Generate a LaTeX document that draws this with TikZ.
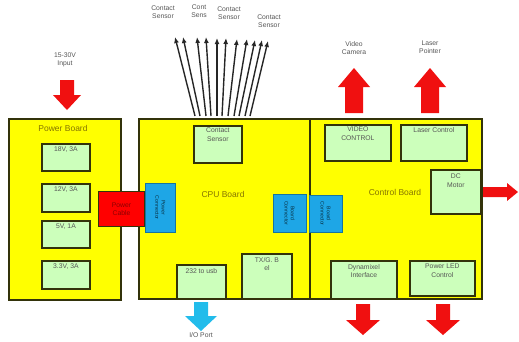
\documentclass[tikz,border=0pt]{standalone}
\usepackage{fontspec}
\setmainfont{Liberation Sans}
\usetikzlibrary{arrows.meta,positioning}
\definecolor{BoardYellow}{HTML}{FFFF00}
\definecolor{BoardEdge}{HTML}{33330A}
\definecolor{PartGreen}{HTML}{CCFFBB}
\definecolor{PortBlue}{HTML}{1EA6E6}
\definecolor{CableRed}{HTML}{FF0000}
\definecolor{ArrowRed}{HTML}{F01010}
\definecolor{ArrowBlue}{HTML}{22BCEB}
\definecolor{InkGray}{HTML}{555555}
\definecolor{InkOlive}{HTML}{857500}
%% fat block arrow: tail, rotation, length, shaft half, head half, head length, colour
\newcommand{\blockarrow}[7]{%
  \fill[#7, shift={#1}, rotate=#2] (-#4,0) -- (-#4,#3-#6) -- (-#5,#3-#6) -- (0,#3)
    -- (#5,#3-#6) -- (#4,#3-#6) -- (#4,0) -- cycle;}
\begin{document}
\begin{tikzpicture}[x=1pt, y=-1pt, font=\fontsize{6.8}{8.4}\selectfont,
  board/.style={draw=BoardEdge, fill=BoardYellow, line width=1.6pt, anchor=north west, inner sep=0pt},
  part/.style={draw=BoardEdge, fill=PartGreen, line width=1.8pt, anchor=north west, inner sep=0pt},
  port/.style={draw=PortBlue!70!black, fill=PortBlue, line width=0.4pt, anchor=north west, inner sep=0pt},
  porttag/.style={rotate=-90, text=PortBlue!30!black, align=center, inner sep=0pt, font=\fontsize{5.2}{6.2}\selectfont},
  tag/.style={text=InkGray, align=center, inner sep=0pt},
  title/.style={text=InkOlive, font=\fontsize{8.5}{10}\selectfont, inner sep=0pt},
  sensor/.style={-{Latex[length=6pt,width=5pt]}, line width=1.4pt, black!85}]
\useasboundingbox (0,0) rectangle (519,341);
%% boards
\node[board, minimum width=112, minimum height=181] (pwr) at (8,118) {};
\node[board, minimum width=171, minimum height=180] (cpu) at (138,118) {};
\node[board, minimum width=172, minimum height=180] (ctl) at (309,118) {};
\node[title] (pwrT) at (63,128) {Power Board};
\node[title] (cpuT) at (223,194) {CPU Board};
\node[title] (ctlT) at (395,192) {Control Board};
%% power board outputs
\foreach \n/\y/\h/\l in {v1/143/27/{18V, 3A}, v2/183/28/{12V, 3A}, v3/220/27/{5V, 1A}, v4/260/28/{3.3V, 3A}}
  {\node[part, minimum width=48, minimum height=\h] (\n) at (41,\y) {};
   \node[tag, below=4pt of \n.north] {\l};}
%% cable and connectors
\node[port, minimum width=30, minimum height=49] (pcon) at (145,183) {};
\node[porttag] at (pcon.center) {Power\\Connector};
\node[port, minimum width=33, minimum height=38] (bcon1) at (273,194) {};
\node[porttag] at (bcon1.center) {Board\\Connector};
\node[port, minimum width=33, minimum height=37] (bcon2) at (309,195) {};
\node[porttag] at (bcon2.center) {Board\\Connector};
\node[draw=BoardEdge, fill=CableRed, line width=1pt, anchor=north west, minimum width=46, minimum height=35,
      text=CableRed!55!black, align=center, inner sep=0pt] (cable) at (98,191) {Power\\Cable};
%% CPU board parts
\node[part, minimum width=48, minimum height=37] (contact) at (193,125) {};
\node[tag, below=3pt of contact.north] {Contact\\Sensor};
\node[part, minimum width=49, minimum height=34] (usb) at (176,264) {};
\node[tag, below=4pt of usb.north] {232 to usb};
\node[part, minimum width=50, minimum height=45] (txg) at (241,253) {};
\node[tag, below=4pt of txg.north] {TX/G. B\\el};
%% control board parts
\node[part, minimum width=66, minimum height=36] (video) at (324,124) {};
\node[tag, below=3pt of video.north] {VIDEO\\CONTROL};
\node[part, minimum width=66, minimum height=36] (laser) at (400,124) {};
\node[tag, below=3pt of laser.north] {Laser Control};
\node[part, minimum width=50, minimum height=44] (motor) at (430,169) {};
\node[tag, below=5pt of motor.north] {DC\\Motor};
\node[part, minimum width=66, minimum height=38] (dyna) at (330,260) {};
\node[tag, below=4pt of dyna.north] {Dynamixel\\Interface};
\node[part, minimum width=65, minimum height=35] (led) at (409,260) {};
\node[tag, below=4pt of led.north] {Power LED\\Control};
%% block arrows
\blockarrow{(67,80)}{0}{30}{7}{14}{15}{ArrowRed}
\blockarrow{(354,113)}{180}{45}{9}{16}{19}{ArrowRed}
\blockarrow{(430,113)}{180}{45}{9}{16}{19}{ArrowRed}
\blockarrow{(483,192)}{90}{35}{5}{9}{11}{ArrowRed}
\blockarrow{(363,304)}{0}{31}{7}{17}{15}{ArrowRed}
\blockarrow{(443,304)}{0}{31}{7}{17}{15}{ArrowRed}
\blockarrow{(201,302)}{0}{29}{7}{16}{15}{ArrowBlue}
%% arrow labels
\node[tag] (inLbl) at (65,60) {15-30V\\Input};
\node[tag] (camLbl) at (354,48) {Video\\Camera};
\node[tag] (lpLbl) at (430,47) {Laser\\Pointer};
\node[tag, anchor=north] (ioLbl) at (201,332.5) {I/O Port};
%% contact sensor leads
\foreach \i/\bx/\tx/\ty in {1/195/175/37, 2/200/183/37, 3/206/197/37, 4/211/206/37, 5/217/217/38,
    6/222/226/38, 7/228/237/39, 8/234/247/39, 9/239/255/40, 10/245/262/40, 11/250/268/41}
  {\coordinate (b\i) at (\bx,116);
   \coordinate (t\i) at (\tx,\ty);
   \draw[sensor] (b\i) -- (t\i);}
\node[tag] (s1) at (163,12) {Contact\\Sensor};
\node[tag] (s2) at (199,11) {Cont\\Sens};
\node[tag] (s3) at (229,13) {Contact\\Sensor};
\node[tag] (s4) at (269,21) {Contact\\Sensor};
\end{tikzpicture}
\end{document}
